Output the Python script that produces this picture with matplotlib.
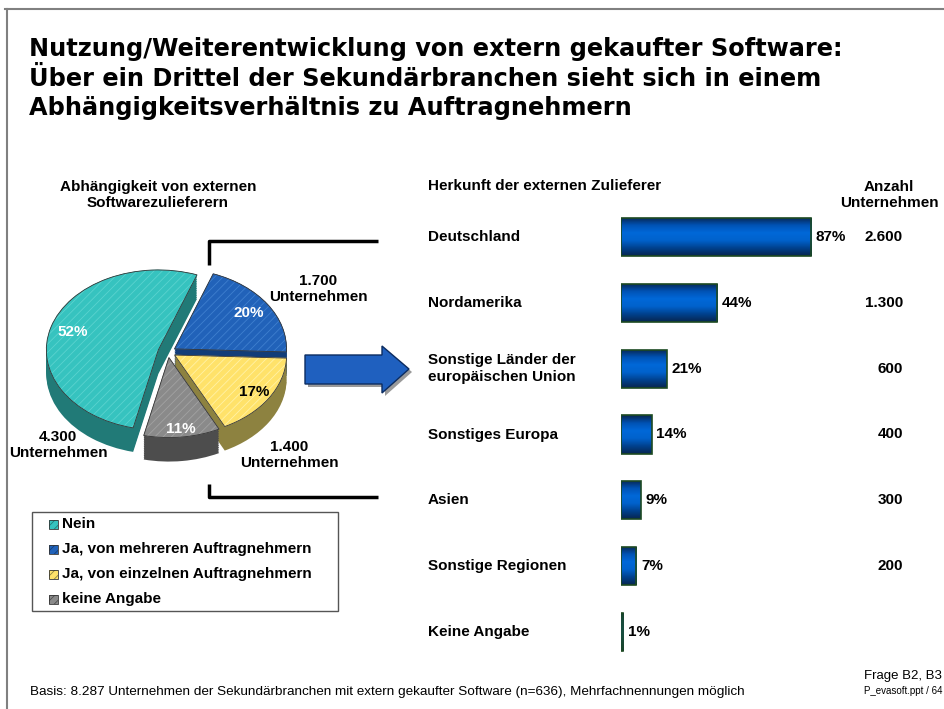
import numpy as np
import matplotlib.pyplot as plt
from matplotlib.colors import LinearSegmentedColormap
from matplotlib.patches import Polygon, Rectangle
from matplotlib.transforms import blended_transform_factory

plt.rcParams['font.family'] = ['Liberation Sans', 'DejaVu Sans']
plt.rcParams['hatch.linewidth'] = 0.6

# ---- data ----
pie_labels = ['Nein', 'Ja, von mehreren Auftragnehmern',
              'Ja, von einzelnen Auftragnehmern', 'keine Angabe']
pie_values = [52, 20, 17, 11]
top_colors = ['#36c3bf', '#2162b9', '#ffe26a', '#8a8a8a']
hatch_colors = ['#5ad3cf', '#3f7fcf', '#fff2a6', '#a2a2a2']
side_colors = ['#217a77', '#123d78', '#8d8240', '#4d4d4d']
pct_colors = ['white', 'white', 'black', 'white']

regions = ['Deutschland', 'Nordamerika', 'Sonstige Länder der\neuropäischen Union',
           'Sonstiges Europa', 'Asien', 'Sonstige Regionen', 'Keine Angabe']
region_pct = [87, 44, 21, 14, 9, 7, 1]
region_counts = ['2.600', '1.300', '600', '400', '300', '200', '']

title_lines = ['Nutzung/Weiterentwicklung von extern gekaufter Software:',
               'Über ein Drittel der Sekundärbranchen sieht sich in einem',
               'Abhängigkeitsverhältnis zu Auftragnehmern']
basis = ('Basis: 8.287 Unternehmen der Sekundärbranchen mit extern gekaufter Software '
         '(n=636), Mehrfachnennungen möglich')

W, H = 945, 709
fig = plt.figure(figsize=(9.45, 7.09), dpi=100)
bg = fig.add_axes([0, 0, 1, 1])
bg.set_xlim(0, W)
bg.set_ylim(H, 0)
bg.axis('off')


def px_axes(x0, y0, x1, y1):
    return fig.add_axes([x0 / W, 1 - y1 / H, (x1 - x0) / W, (y1 - y0) / H])


# slide frame
bg.plot([5, W], [9, 9], color='#808080', lw=1.5)
bg.plot([7, 7], [9, H], color='#808080', lw=1.5)

for i, line in enumerate(title_lines):
    bg.text(29, 56 + 29.5 * i, line, fontsize=17.3, fontweight='bold', va='baseline',
            family='DejaVu Sans')

# ---- pie (pseudo 3D) ----
cx, cy, rx, ry = 168, 352, 112, 80
pax = px_axes(cx - 1.5 * rx, cy - 1.3 * ry, cx + 1.5 * rx, cy + 1.7 * ry)
explode = [0.09, 0.07, 0.07, 0.07]
start = 257
depth = 0.3
for d in np.linspace(depth, 0.01, 14):
    pax.pie(pie_values, explode=explode, colors=side_colors, startangle=start,
            counterclock=False, center=(0, -d), wedgeprops=dict(linewidth=0))
wedges, _ = pax.pie(pie_values, explode=explode, colors=top_colors, startangle=start,
                    counterclock=False, wedgeprops=dict(linewidth=0.4))
for w, hc in zip(wedges, hatch_colors):
    w.set_hatch('////')
    w.set_edgecolor(hc)
pax.pie(pie_values, explode=explode, colors=['none'] * 4, startangle=start,
        counterclock=False, wedgeprops=dict(linewidth=0.6, edgecolor='#333333'))
pax.set_aspect('auto')
pax.set_xlim(-1.5, 1.5)
pax.set_ylim(-1.7, 1.3)
pax.axis('off')

rfac = [0.8, 0.8, 0.85, 0.9]
for w, v, c, rf, ex in zip(wedges, pie_values, pct_colors, rfac, explode):
    th = np.deg2rad((w.theta1 + w.theta2) / 2)
    r = rf + ex
    pax.text(r * np.cos(th), r * np.sin(th), f'{v}%', color=c, fontsize=11,
             fontweight='bold', ha='center', va='center')

for (x, y_), txt in zip([(318, 289), (289, 455), (58, 445)], ['1.700', '1.400', '4.300']):
    bg.text(x, y_, txt + '\nUnternehmen', ha='center', va='center', fontsize=11,
            fontweight='bold', linespacing=1.25)

bg.text(158, 195, 'Abhängigkeit von externen\nSoftwarezulieferern', ha='center',
        va='center', fontsize=11, fontweight='bold', linespacing=1.25)

# bracket lines
bg.plot([209, 209, 378], [265, 241, 241], color='black', lw=2.5, solid_capstyle='butt')
bg.plot([209, 209, 378], [484, 497, 497], color='black', lw=2.5, solid_capstyle='butt')

# block arrow with shadow
arrow = [(305, 355), (382, 355), (382, 346), (409, 369), (382, 393), (382, 384), (305, 384)]
bg.add_patch(Polygon([(x + 3, y_ + 3) for x, y_ in arrow], closed=True,
                     facecolor='#9a9a9a', edgecolor='none'))
bg.add_patch(Polygon(arrow, closed=True, facecolor='#1f60bf', edgecolor='#0c2c60', lw=1))

# legend
bg.add_patch(Rectangle((32, 512), 306, 99, facecolor='white', edgecolor='#555555', lw=1))
for i, (lab, tc, hc) in enumerate(zip(pie_labels, top_colors, side_colors)):
    yy = 524 + 25 * i
    bg.add_patch(Rectangle((49, yy - 4.5), 9, 9, facecolor=tc, edgecolor=hc,
                           hatch='////', lw=0))
    bg.add_patch(Rectangle((49, yy - 4.5), 9, 9, facecolor='none',
                           edgecolor='#333333', lw=0.6))
    bg.text(62, yy, lab, va='center', fontsize=11, fontweight='bold')

# ---- bar chart ----
scale = 2.184
bax = px_axes(621, 204, 621 + 100 * scale, 665)
y = np.arange(len(regions))
bars = bax.barh(y, region_pct, height=0.58, color='none', edgecolor='#1d4a22',
                linewidth=1.2, zorder=3)
grad = np.linspace(0, 1, 64).reshape(-1, 1)
cmap = LinearSegmentedColormap.from_list(
    'bar', ['#082650', '#0052b4', '#0068d8', '#0062cc', '#00418e', '#082650'])
for b in bars:
    x0, y0 = b.get_x(), b.get_y()
    im = bax.imshow(grad, extent=[x0, x0 + b.get_width(), y0 + b.get_height(), y0],
                    aspect='auto', cmap=cmap, zorder=2, interpolation='bilinear')
    im.set_clip_path(b)
bax.set_xlim(0, 100)
bax.set_ylim(6.5, -0.5)
bax.axis('off')

for i, v in enumerate(region_pct):
    bax.text(v + 2.2, i, f'{v}%', va='center', ha='left', fontsize=11, fontweight='bold')

tr = blended_transform_factory(bg.transData, bax.transData)
for i, (lab, cnt) in enumerate(zip(regions, region_counts)):
    bax.text(428, i, lab, transform=tr, va='center', ha='left', fontsize=11,
             fontweight='bold', linespacing=1.25)
    bax.text(903, i, cnt, transform=tr, va='center', ha='right', fontsize=11,
             fontweight='bold')

bg.text(428, 186, 'Herkunft der externen Zulieferer', va='center', fontsize=11,
        fontweight='bold')
bg.text(889, 195, 'Anzahl\nUnternehmen', va='center', ha='center', fontsize=11,
        fontweight='bold', linespacing=1.25)

# footer
bg.text(30, 692, basis, va='center', fontsize=9.7)
bg.text(942, 676, 'Frage B2, B3', va='center', ha='right', fontsize=9.5)
bg.text(942, 691, 'P_evasoft.ppt / 64', va='center', ha='right', fontsize=7)

fig.savefig('out.png', dpi=100)
